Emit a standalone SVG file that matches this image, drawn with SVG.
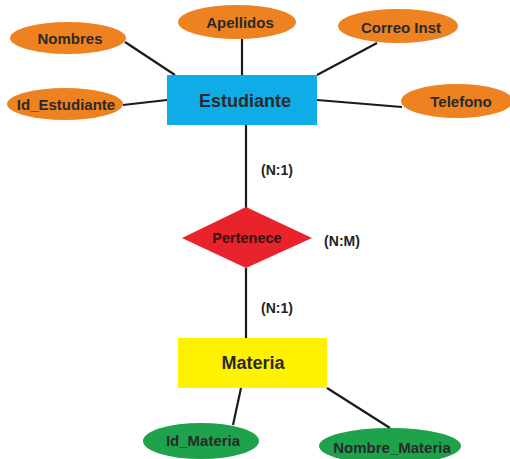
<svg xmlns="http://www.w3.org/2000/svg" width="510" height="459" viewBox="0 0 510 459">
  <style>
    .attr { fill: #EE8220; }
    .key { fill: #1EA24C; }
    .entity-blue { fill: #0FACE8; }
    .entity-yellow { fill: #FFF200; }
    .rel { fill: #E8232B; }
    .link { stroke: #1a1a1a; stroke-width: 2.2; fill: none; }
    text { font-family: "Liberation Sans", Arial, sans-serif; font-weight: bold; text-anchor: middle; dominant-baseline: central; fill: #2a2a2a; }
    .lbl { font-size: 15px; }
    .card { font-size: 14px; fill: #222; }
  </style>
  <rect width="510" height="459" fill="#ffffff"/>

  <!-- connectors -->
  <g id="connectors">
    <line class="link" x1="125" y1="42" x2="175" y2="75"/>
    <line class="link" x1="242" y1="39" x2="242" y2="75"/>
    <line class="link" x1="377" y1="43" x2="317" y2="75"/>
    <line class="link" x1="123" y1="105" x2="167" y2="100"/>
    <line class="link" x1="317" y1="100" x2="402" y2="107"/>
    <line class="link" x1="246" y1="125" x2="246" y2="208"/>
    <line class="link" x1="246" y1="268" x2="246" y2="338"/>
    <line class="link" x1="241" y1="388" x2="233" y2="425"/>
    <line class="link" x1="327" y1="388" x2="390" y2="428"/>
  </g>

  <!-- Estudiante attributes -->
  <g id="nombres">
    <ellipse class="attr" cx="68" cy="38" rx="58" ry="16"/>
    <text class="lbl" x="70" y="38">Nombres</text>
  </g>
  <g id="apellidos">
    <ellipse class="attr" cx="237" cy="22" rx="59" ry="17"/>
    <text class="lbl" x="240" y="22">Apellidos</text>
  </g>
  <g id="correo-inst">
    <ellipse class="attr" cx="398" cy="26" rx="60" ry="17"/>
    <text class="lbl" x="401" y="27">Correo Inst</text>
  </g>
  <g id="id-estudiante">
    <ellipse class="attr" cx="65" cy="104" rx="58" ry="16"/>
    <text class="lbl" x="66" y="104">Id_Estudiante</text>
  </g>
  <g id="telefono">
    <ellipse class="attr" cx="457" cy="101" rx="56" ry="17"/>
    <text class="lbl" x="461" y="101">Telefono</text>
  </g>

  <!-- Estudiante entity -->
  <g id="estudiante">
    <rect class="entity-blue" x="167" y="75" width="150" height="50"/>
    <text x="245" y="101" style="font-size:18px">Estudiante</text>
  </g>

  <!-- relationship -->
  <g id="pertenece">
    <polygon class="rel" points="246,207 312,238 246,268 182,238"/>
    <text x="247" y="238" style="font-size:14.5px; fill:#3a1010">Pertenece</text>
  </g>
  <g id="cardinalities">
    <text class="card" x="277" y="170">(N:1)</text>
    <text class="card" x="342" y="241">(N:M)</text>
    <text class="card" x="277" y="308">(N:1)</text>
  </g>

  <!-- Materia entity -->
  <g id="materia">
    <rect class="entity-yellow" x="178" y="338" width="149" height="50"/>
    <text x="253" y="363" style="font-size:18px">Materia</text>
  </g>
  <g id="id-materia">
    <ellipse class="key" cx="201" cy="441" rx="58" ry="18"/>
    <text class="lbl" x="203" y="440">Id_Materia</text>
  </g>
  <g id="nombre-materia">
    <ellipse class="key" cx="390" cy="446" rx="71" ry="18"/>
    <text class="lbl" x="392" y="447">Nombre_Materia</text>
  </g>
</svg>
